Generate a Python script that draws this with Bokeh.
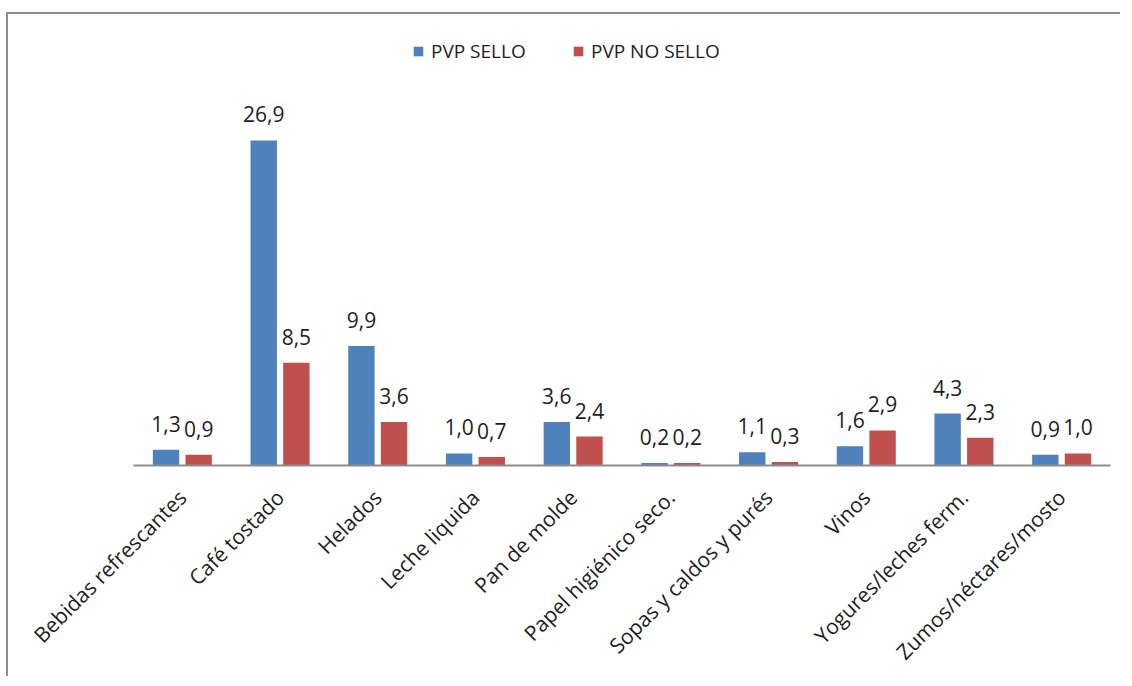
import math
from bokeh.plotting import figure
from bokeh.models import ColumnDataSource, FactorRange, Range1d, Legend, LegendItem
from bokeh.transform import dodge
from bokeh.core.properties import value
from bokeh.embed import file_html
from bokeh.resources import INLINE

categories = ["Bebidas refrescantes", "Café tostado", "Helados", "Leche liquida",
              "Pan de molde", "Papel higiénico seco.", "Sopas y caldos y purés",
              "Vinos", "Yogures/leches ferm.", "Zumos/néctares/mosto"]
pvp_sello = [1.3, 26.9, 9.9, 1.0, 3.6, 0.2, 1.1, 1.6, 4.3, 0.9]
pvp_no_sello = [0.9, 8.5, 3.6, 0.7, 2.4, 0.2, 0.3, 2.9, 2.3, 1.0]
series_names = ["PVP SELLO", "PVP NO SELLO"]

BLUE = "#4F81BD"
RED = "#C0504D"
FONT = "Open Sans"
TXT = "#1e1e1e"

def fmt(v):
    return f"{v:.1f}".replace(".", ",")

src = ColumnDataSource(dict(
    cat=categories,
    sello=pvp_sello,
    nosello=pvp_no_sello,
    sello_lbl=[fmt(v) for v in pvp_sello],
    nosello_lbl=[fmt(v) for v in pvp_no_sello],
))

p = figure(x_range=FactorRange(*categories), y_range=Range1d(0, 36.0),
           width=1114, height=664, output_backend="svg", toolbar_location=None,
           y_axis_location=None, min_border_left=125, min_border_right=12,
           min_border_top=16, min_border_bottom=211)
p.outline_line_color = None
p.xgrid.grid_line_color = None
p.ygrid.grid_line_color = None
p.background_fill_color = "white"
p.border_fill_color = "white"
# chart-area border: only its top and left edges fall inside the picture
p.styles = {"margin-left": "6px", "margin-top": "12px",
            "border-top": "2px solid #8c8c8c", "border-left": "2px solid #8c8c8c"}

off = 0.167
w = 0.27
r1 = p.vbar(x=dodge("cat", -off, range=p.x_range), top="sello", width=w, source=src,
            fill_color=BLUE, line_color=None)
r2 = p.vbar(x=dodge("cat", off, range=p.x_range), top="nosello", width=w, source=src,
            fill_color=RED, line_color=None)

for col, lbl, o in (("sello", "sello_lbl", -off), ("nosello", "nosello_lbl", off)):
    p.text(x=dodge("cat", o, range=p.x_range), y=col, text=lbl, source=src,
           text_align="center", text_baseline="alphabetic", y_offset=-26,
           text_font=value(FONT), text_font_size="21px", text_color=TXT)

ax = p.xaxis[0]
ax.axis_line_color = "#8c8c8c"
ax.axis_line_width = 2
ax.major_tick_line_color = None
ax.minor_tick_line_color = None
ax.major_label_orientation = math.pi / 4
ax.major_label_text_font = FONT
ax.major_label_text_font_size = "21px"
ax.major_label_text_color = TXT
ax.major_label_standoff = 22

for r, name, loc in ((r1, series_names[0], (279, 401)), (r2, series_names[1], (439, 401))):
    lg = Legend(items=[LegendItem(label=name, renderers=[r])], location=loc,
                orientation="horizontal", padding=0, margin=0, spacing=0,
                glyph_width=12, glyph_height=12, label_standoff=7,
                label_text_font=FONT, label_text_font_size="19px",
                label_text_color=TXT, border_line_color=None,
                background_fill_alpha=0)
    p.add_layout(lg)

open("out.html", "w").write(file_html(p, INLINE))
